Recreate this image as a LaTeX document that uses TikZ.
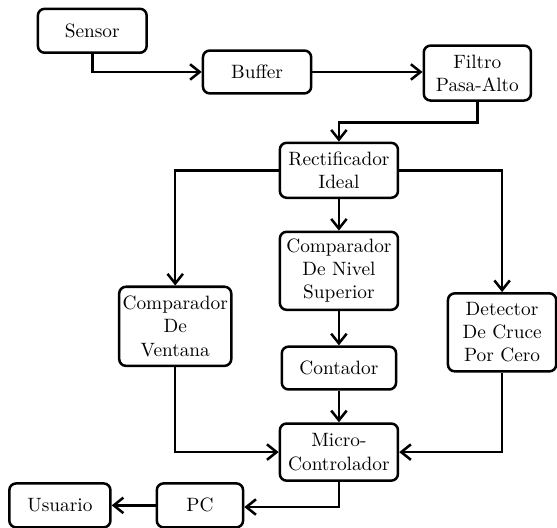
\documentclass[tikz,border=0pt]{standalone}
\usepackage{tikz}
\usetikzlibrary{calc}
\usetikzlibrary{arrows.meta}
\usetikzlibrary{positioning}

\tikzset{
    bloque/.style={draw, rounded corners=3.5pt, line width=1.3pt, align=center, inner sep=1pt},
    flecha/.style={line width=1.3pt, -{Straight Barb[length=5pt, width=8pt, line width=1.3pt]}}
}

\begin{document}
\begin{tikzpicture}
            % Frame to ensure alignment:
            \useasboundingbox                                                 (0.00, 0.00) rectangle (10.14, -9.60);
            % Cadena de entrada
            \node[bloque, minimum width=1.98cm, minimum height=0.80cm] (sensor)       at (1.68, -0.56) {Sensor};
            \node[bloque, minimum width=1.97cm, minimum height=0.78cm] (buffer)       at (4.68, -1.31) {Buffer};
            \node[bloque, minimum width=1.95cm, minimum height=1.00cm] (filtro)       at (8.69, -1.33) {Filtro\\Pasa-Alto};
            \node[bloque, minimum width=2.15cm, minimum height=1.00cm] (rectificador) at (6.17, -3.10) {Rectificador\\Ideal};
            % Ramas
            \node[bloque, minimum width=2.04cm, minimum height=1.44cm] (ventana)      at (3.19, -5.94) {Comparador\\De\\Ventana};
            \node[bloque, minimum width=2.15cm, minimum height=1.42cm] (nivel)        at (6.17, -4.93) {Comparador\\De Nivel\\Superior};
            \node[bloque, minimum width=2.08cm, minimum height=0.78cm] (contador)     at (6.17, -6.70) {Contador};
            \node[bloque, minimum width=1.97cm, minimum height=1.42cm] (detector)     at (9.14, -6.05) {Detector\\De Cruce\\Por Cero};
            % Salida
            \node[bloque, minimum width=2.15cm, minimum height=1.04cm] (micro)        at (6.17, -8.23) {Micro-\\Controlador};
            \node[bloque, minimum width=1.57cm, minimum height=0.80cm] (pc)           at (3.64, -9.20) {PC};
            \node[bloque, minimum width=1.84cm, minimum height=0.80cm] (usuario)      at (1.09, -9.20) {Usuario};
            % Conexiones
            \draw[flecha] (sensor.south)       |- (buffer.west);
            \draw[flecha] (buffer.east)        -- (buffer.east -| filtro.west);
            \draw[flecha] (filtro.south)       -- ++(0,-0.38) -| (rectificador.north);
            \draw[flecha] (rectificador.west)  -| (ventana.north);
            \draw[flecha] (rectificador.south) -- (nivel.north);
            \draw[flecha] (rectificador.east)  -| (detector.north);
            \draw[flecha] (nivel.south)        -- (contador.north);
            \draw[flecha] (contador.south)     -- (micro.north);
            \draw[flecha] (ventana.south)      |- (micro.west);
            \draw[flecha] (detector.south)     |- (micro.east);
            \draw[flecha] (micro.south)        |- ($(pc.east)+(0,-0.03)$);
            \draw[flecha] (pc.west)            -- (usuario.east);
\end{tikzpicture}
\end{document}
